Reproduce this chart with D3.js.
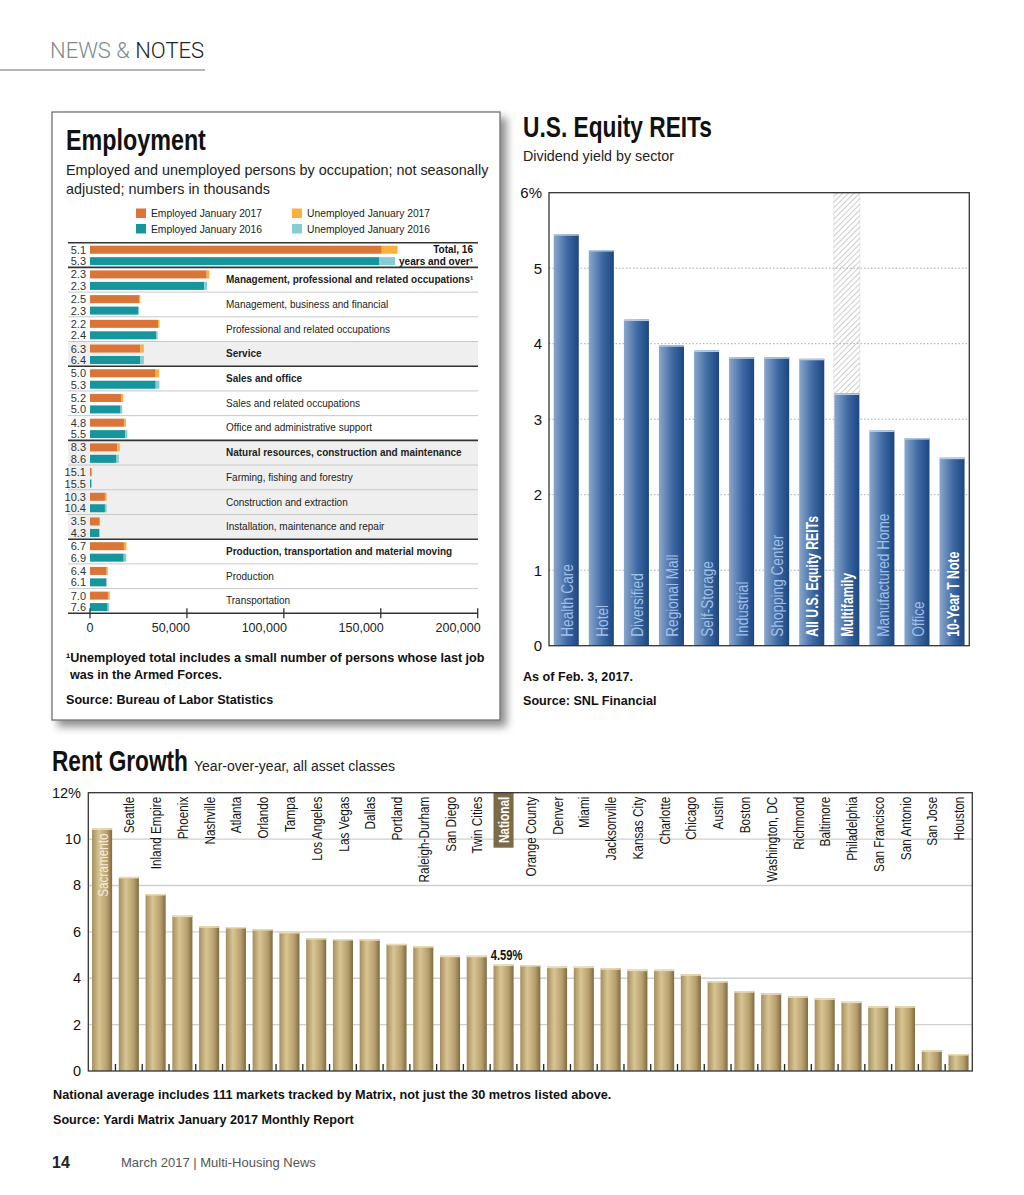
<!DOCTYPE html>
<html lang="en">
<head>
<meta charset="UTF-8">
<title>News &amp; Notes – March 2017</title>
<script src="https://cdn.jsdelivr.net/npm/d3@7"></script>
<style>
  body { margin: 0; background: #fff; }
  svg { display: block; font-family: "Liberation Sans", Arial, Helvetica, sans-serif; }
</style>
</head>
<body>
<svg id="page" width="1024" height="1195"></svg>
<script>
// ---------- Employment (numbers in thousands) ----------
const occupations = [
  "Total", "Management, professional and related occupations\u00b9",
  "Management, business and financial", "Professional and related occupations",
  "Service", "Sales and office", "Sales and related occupations",
  "Office and administrative support", "Natural resources, construction and maintenance",
  "Farming, fishing and forestry", "Construction and extraction",
  "Installation, maintenance and repair", "Production, transportation and material moving",
  "Production", "Transportation"
];
const rate2017 = ["5.1","2.3","2.5","2.2","6.3","5.0","5.2","4.8","8.3","15.1","10.3","3.5","6.7","6.4","7.0"];
const rate2016 = ["5.3","2.3","2.3","2.4","6.4","5.3","5.0","5.5","8.6","15.5","10.4","4.3","6.9","6.1","7.6"];
const employed2017   = [150500, 60200, 25300, 35100, 26000, 33900, 16300, 17700, 14100, 850, 7700, 5000, 17500, 8600, 9500];
const unemployed2017 = [8150, 1420, 650, 790, 1750, 1780, 890, 890, 1280, 150, 880, 180, 1260, 590, 720];
const employed2016   = [149100, 59000, 24800, 34100, 26000, 33900, 15800, 18200, 13600, 700, 7700, 4800, 17400, 8300, 9100];
const unemployed2016 = [8300, 1390, 580, 840, 1780, 1900, 830, 1060, 1280, 130, 890, 220, 1290, 540, 750];
const empTicks = [0, 50000, 100000, 150000, 200000];
const legendItems = ["Employed January 2017", "Unemployed January 2017", "Employed January 2016", "Unemployed January 2016"];

// ---------- U.S. Equity REITs ----------
const sectors = ["Health Care","Hotel","Diversified","Regional Mall","Self-Storage","Industrial",
  "Shopping Center","All U.S. Equity REITs","Multifamily","Manufactured Home","Office","10-Year T Note"];
const yields = [5.45, 5.24, 4.32, 3.98, 3.91, 3.82, 3.82, 3.80, 3.34, 2.85, 2.75, 2.49];
const reitTicks = [0, 1, 2, 3, 4, 5, 6];

// ---------- Rent Growth ----------
const metros = ["Sacramento","Seattle","Inland Empire","Phoenix","Nashville","Atlanta","Orlando","Tampa",
  "Los Angeles","Las Vegas","Dallas","Portland","Raleigh-Durham","San Diego","Twin Cities","National",
  "Orange County","Denver","Miami","Jacksonville","Kansas City","Charlotte","Chicago","Austin","Boston",
  "Washington, DC","Richmond","Baltimore","Philadelphia","San Francisco","San Antonio","San Jose","Houston"];
const rentGrowth = [10.46, 8.37, 7.63, 6.70, 6.24, 6.21, 6.12, 5.99, 5.73, 5.69, 5.68, 5.48, 5.38, 4.97, 4.97, 4.59,
  4.57, 4.50, 4.50, 4.43, 4.37, 4.37, 4.17, 3.87, 3.44, 3.35, 3.22, 3.13, 2.99, 2.79, 2.79, 0.89, 0.73];
const rentTicks = [0, 2, 4, 6, 8, 10, 12];

// styling config
const boldRows = [0, 1, 4, 5, 8, 12];
const shadedRows = [4, 8, 9, 10, 11];
const darkTopRows = [0, 1, 5, 8, 12];
const legendColors = ["#da7439", "#f8b13f", "#17959c", "#86cdd3"];
const whiteSectors = ["All U.S. Equity REITs", "Multifamily", "10-Year T Note"];
const hatchedSector = "Multifamily";
const insideMetro = "Sacramento";
const boxedMetro = "National";

const svg = d3.select("#page");
const defs = svg.append("defs");

// squeeze a text horizontally so it reads like a condensed face
function fitWidth(sel, w) {
  sel.each(function () {
    const n = this.getComputedTextLength();
    const x = +this.getAttribute("x"), y = +this.getAttribute("y");
    this.removeAttribute("x"); this.removeAttribute("y");
    this.setAttribute("transform", `translate(${x},${y}) scale(${w / n},1)`);
  });
}

const shadow = defs.append("filter").attr("id", "shadow").attr("x", "-5%").attr("y", "-5%").attr("width", "115%").attr("height", "115%");
shadow.append("feDropShadow").attr("dx", 6).attr("dy", 6).attr("stdDeviation", 4)
  .attr("flood-color", "#000").attr("flood-opacity", 0.45);

const blueGrad = defs.append("linearGradient").attr("id", "blueBar").attr("x1", 0).attr("x2", 1).attr("y1", 0).attr("y2", 0);
blueGrad.append("stop").attr("offset", "0%").attr("stop-color", "#8aa7cc");
blueGrad.append("stop").attr("offset", "55%").attr("stop-color", "#3d68a2");
blueGrad.append("stop").attr("offset", "100%").attr("stop-color", "#1c4680");

const tanGrad = defs.append("linearGradient").attr("id", "tanBar").attr("x1", 0).attr("x2", 1).attr("y1", 0).attr("y2", 0);
tanGrad.append("stop").attr("offset", "0%").attr("stop-color", "#a58e5e");
tanGrad.append("stop").attr("offset", "35%").attr("stop-color", "#d8c593");
tanGrad.append("stop").attr("offset", "75%").attr("stop-color", "#b59e6c");
tanGrad.append("stop").attr("offset", "100%").attr("stop-color", "#7f6b41");

const hatch = defs.append("pattern").attr("id", "hatch").attr("patternUnits", "userSpaceOnUse")
  .attr("width", 4).attr("height", 4).attr("patternTransform", "rotate(45)");
hatch.append("line").attr("x1", 0).attr("y1", 0).attr("x2", 0).attr("y2", 4)
  .attr("stroke", "#999").attr("stroke-width", 1);

// ---------- page header / footer ----------
const head = svg.append("text").attr("x", 50).attr("y", 58).attr("font-family", "Roboto, sans-serif")
  .attr("font-weight", 300).attr("font-size", 22);
head.append("tspan").attr("fill", "#7d8b8b").text("NEWS & ");
head.append("tspan").attr("fill", "#222").text("NOTES");
svg.append("line").attr("x1", 0).attr("x2", 205).attr("y1", 70).attr("y2", 70).attr("stroke", "#b5b5b5").attr("stroke-width", 2);

svg.append("text").attr("x", 52).attr("y", 1168).attr("font-weight", "bold").attr("font-size", 16).attr("fill", "#222").text("14");
svg.append("text").attr("x", 121).attr("y", 1167).attr("font-size", 13).attr("fill", "#555").text("March 2017  |  Multi-Housing News");

// ---------- Employment ----------
const emp = svg.append("g");
emp.append("rect").attr("x", 52).attr("y", 112).attr("width", 448).attr("height", 608)
  .attr("fill", "#fff").attr("stroke", "#666").attr("stroke-width", 1.2).attr("filter", "url(#shadow)");
emp.append("text").attr("x", 66).attr("y", 150).attr("font-size", 29).attr("font-weight", "bold")
  .attr("fill", "#111").text("Employment").call(fitWidth, 140);
emp.append("text").attr("x", 66).attr("y", 175).attr("font-size", 14.4).attr("fill", "#222")
  .text("Employed and unemployed persons by occupation; not seasonally");
emp.append("text").attr("x", 66).attr("y", 194).attr("font-size", 14.4).attr("fill", "#222")
  .text("adjusted; numbers in thousands");

const legend = emp.append("g").selectAll("g").data(legendItems).join("g")
  .attr("transform", (d, i) => `translate(${i % 2 ? 292 : 136},${i < 2 ? 208.5 : 224})`);
legend.append("rect").attr("width", 10).attr("height", 9.5).attr("fill", (d, i) => legendColors[i]);
legend.append("text").attr("x", 15).attr("y", 8.5).attr("font-size", 10.3).attr("fill", "#222").text(d => d);

const ex = d3.scaleLinear().domain([0, 200000]).range([90, 477.7]);
const ey = d3.scaleBand().domain(occupations).range([242.7, 613.3]);
const yr = d3.scaleBand().domain(["2017", "2016"]).range([3, 22.5]).paddingInner(0.3);

const rows = emp.append("g").selectAll("g").data(occupations).join("g")
  .attr("transform", d => `translate(0,${ey(d)})`);
rows.filter((d, i) => shadedRows.includes(i)).append("rect")
  .attr("x", 68).attr("width", 410).attr("height", ey.bandwidth()).attr("fill", "#efefef");
rows.append("line").attr("x1", 68).attr("x2", 478)
  .attr("stroke", (d, i) => darkTopRows.includes(i) ? "#333" : "#c8c8c8")
  .attr("stroke-width", (d, i) => darkTopRows.includes(i) ? 1.6 : 1);

const series = [
  { key: "2017", emp: employed2017, un: unemployed2017, rate: rate2017, c: [legendColors[0], legendColors[1]] },
  { key: "2016", emp: employed2016, un: unemployed2016, rate: rate2016, c: [legendColors[2], legendColors[3]] }
];
series.forEach(s => {
  rows.append("rect").attr("x", ex(0)).attr("y", yr(s.key)).attr("height", yr.bandwidth())
    .attr("width", (d, i) => ex(s.emp[i]) - ex(0)).attr("fill", s.c[0]);
  rows.append("rect").attr("x", (d, i) => ex(s.emp[i])).attr("y", yr(s.key)).attr("height", yr.bandwidth())
    .attr("width", (d, i) => ex(s.emp[i] + s.un[i]) - ex(s.emp[i])).attr("fill", s.c[1]);
  rows.append("text").attr("x", 86).attr("y", yr(s.key) + yr.bandwidth() / 2 + 4).attr("text-anchor", "end")
    .attr("font-size", 11).attr("fill", "#333").text((d, i) => s.rate[i]);
});
rows.filter((d, i) => i > 0).append("text").attr("x", 226).attr("y", ey.bandwidth() / 2 + 3.5)
  .attr("font-size", 10)
  .attr("font-weight", (d, i) => boldRows.includes(i + 1) ? "bold" : "normal")
  .attr("fill", "#222").text(d => d);
const totalLbl = rows.filter((d, i) => i === 0).append("text").attr("text-anchor", "end")
  .attr("font-size", 10).attr("font-weight", "bold").attr("fill", "#111");
totalLbl.append("tspan").attr("x", 473).attr("y", 10.5).text("Total, 16");
totalLbl.append("tspan").attr("x", 473).attr("y", 22).text("years and over\u00b9");

const eAxis = emp.append("g").attr("transform", "translate(0,613.3)");
eAxis.append("line").attr("x1", 68).attr("x2", 478).attr("stroke", "#333").attr("stroke-width", 1.6);
eAxis.selectAll(".t").data(empTicks).join("line").attr("class", "t")
  .attr("x1", d => ex(d)).attr("x2", d => ex(d)).attr("y1", -5).attr("y2", 5).attr("stroke", "#333").attr("stroke-width", 1.3);
eAxis.selectAll(".l").data(empTicks).join("text").attr("class", "l")
  .attr("x", d => d === 0 ? ex(d) : ex(d) + 3).attr("y", 19)
  .attr("text-anchor", d => d === 0 ? "middle" : "end").attr("font-size", 12.5).attr("fill", "#222")
  .text(d => d3.format(",")(d));

emp.append("text").attr("x", 66).attr("y", 662).attr("font-size", 12.6).attr("font-weight", "bold").attr("fill", "#111")
  .text("\u00b9Unemployed total includes a small number of persons whose last job");
emp.append("text").attr("x", 70).attr("y", 679).attr("font-size", 12.6).attr("font-weight", "bold").attr("fill", "#111")
  .text("was in the Armed Forces.");
emp.append("text").attr("x", 66).attr("y", 704).attr("font-size", 12.6).attr("font-weight", "bold").attr("fill", "#111")
  .text("Source: Bureau of Labor Statistics");

// ---------- U.S. Equity REITs ----------
const reit = svg.append("g");
reit.append("text").attr("x", 523).attr("y", 137).attr("font-size", 29).attr("font-weight", "bold")
  .attr("fill", "#111").text("U.S. Equity REITs").call(fitWidth, 189);
reit.append("text").attr("x", 523).attr("y", 161).attr("font-size", 14.3).attr("fill", "#222").text("Dividend yield by sector");

const rx = d3.scaleBand().domain(sectors).range([549, 969.3]).paddingInner(0.286).paddingOuter(0.135);
const ry = d3.scaleLinear().domain([0, 6]).range([645.7, 192.7]);

reit.selectAll(".grid").data(reitTicks.filter(t => t > 0 && t < 6)).join("line").attr("class", "grid")
  .attr("x1", 549).attr("x2", 969.3).attr("y1", d => ry(d)).attr("y2", d => ry(d))
  .attr("stroke", "#aaa").attr("stroke-dasharray", "1.5,2");
reit.selectAll(".yl").data(reitTicks).join("text").attr("class", "yl")
  .attr("x", 542).attr("y", d => ry(d) + 5.5).attr("text-anchor", "end").attr("font-size", 15).attr("fill", "#111")
  .text(d => d === 6 ? "6%" : d);

const hx = rx(hatchedSector), hv = yields[sectors.indexOf(hatchedSector)];
reit.append("rect").attr("x", hx - 0.5).attr("y", ry(6)).attr("width", rx.bandwidth() + 1).attr("height", ry(hv) - ry(6))
  .attr("fill", "url(#hatch)").attr("stroke", "#bbb").attr("stroke-width", 0.6).attr("stroke-dasharray", "1,1");
reit.append("line").attr("x1", hx - 0.5).attr("x2", hx - 0.5).attr("y1", ry(hv)).attr("y2", ry(0))
  .attr("stroke", "#ccc").attr("stroke-width", 0.8).attr("stroke-dasharray", "1,1.5");

const rbars = reit.append("g").selectAll("g").data(sectors).join("g").attr("transform", d => `translate(${rx(d)},0)`);
rbars.append("rect").attr("y", (d, i) => ry(yields[i])).attr("width", rx.bandwidth())
  .attr("height", (d, i) => ry(0) - ry(yields[i])).attr("fill", "url(#blueBar)");
rbars.append("rect").attr("y", (d, i) => ry(yields[i])).attr("width", rx.bandwidth()).attr("height", 1.5).attr("fill", "#b6c9e2");
rbars.append("text")
  .attr("transform", d => `translate(${rx.bandwidth() / 2 + 0.5},${ry(0) - 9}) rotate(-90) scale(${whiteSectors.includes(d) ? 0.72 : 0.8},1)`)
  .attr("dy", "0.36em").attr("font-size", 17)
  .attr("font-weight", d => whiteSectors.includes(d) ? "bold" : "normal")
  .attr("fill", d => whiteSectors.includes(d) ? "#fff" : "#a2c0e8").text(d => d);

reit.append("rect").attr("x", 549).attr("y", ry(6)).attr("width", 420.3).attr("height", ry(0) - ry(6))
  .attr("fill", "none").attr("stroke", "#333").attr("stroke-width", 1.3);

reit.append("text").attr("x", 523).attr("y", 681).attr("font-size", 12.6).attr("font-weight", "bold").attr("fill", "#111")
  .text("As of Feb. 3, 2017.");
reit.append("text").attr("x", 523).attr("y", 705).attr("font-size", 12.6).attr("font-weight", "bold").attr("fill", "#111")
  .text("Source: SNL Financial");

// ---------- Rent Growth ----------
const rent = svg.append("g");
rent.append("text").attr("x", 52).attr("y", 771).attr("font-size", 29).attr("font-weight", "bold")
  .attr("fill", "#111").text("Rent Growth").call(fitWidth, 136);
rent.append("text").attr("x", 194).attr("y", 771).attr("font-size", 14).attr("fill", "#222").text("Year-over-year, all asset classes");

const gx = d3.scaleBand().domain(metros).range([88.3, 972.3]).paddingInner(0.25).paddingOuter(0.14);
const gy = d3.scaleLinear().domain([0, 12]).range([1071, 792.7]);

rent.selectAll(".grid").data(rentTicks.filter(t => t > 0 && t < 12)).join("line").attr("class", "grid")
  .attr("x1", 88.3).attr("x2", 972.3).attr("y1", d => gy(d)).attr("y2", d => gy(d))
  .attr("stroke", "#cfcfcf").attr("stroke-width", 1.4);
rent.selectAll(".yl").data(rentTicks).join("text").attr("class", "yl")
  .attr("x", 81).attr("y", d => gy(d) + 5).attr("text-anchor", "end").attr("font-size", 14.5).attr("fill", "#111")
  .text(d => d === 12 ? "12%" : d);

const gbars = rent.append("g").selectAll("g").data(metros).join("g").attr("transform", d => `translate(${gx(d)},0)`);
gbars.append("rect").attr("y", (d, i) => gy(rentGrowth[i])).attr("width", gx.bandwidth())
  .attr("height", (d, i) => gy(0) - gy(rentGrowth[i])).attr("fill", "url(#tanBar)");
gbars.append("rect").attr("y", (d, i) => gy(rentGrowth[i])).attr("width", gx.bandwidth()).attr("height", 1.5).attr("fill", "#e8dcba");
gbars.filter(d => d === boxedMetro).append("rect").attr("y", gy(12)).attr("width", gx.bandwidth()).attr("height", 55)
  .attr("fill", "#7b6b48");
gbars.append("text")
  .attr("transform", (d, i) => `translate(${gx.bandwidth() / 2},${d === insideMetro ? gy(rentGrowth[i]) + 5 : gy(12) + 4}) rotate(-90) scale(0.76,1)`)
  .attr("dy", "0.36em").attr("text-anchor", "end").attr("font-size", 15.5)
  .attr("font-weight", d => d === boxedMetro ? "bold" : "normal")
  .attr("fill", d => d === insideMetro ? "#f6eedb" : d === boxedMetro ? "#fff" : "#151515").text(d => d);

const natIdx = metros.indexOf(boxedMetro);
rent.append("text")
  .attr("transform", `translate(${gx(boxedMetro) + gx.bandwidth() / 2 + 3},${gy(rentGrowth[natIdx]) - 5}) scale(0.8,1)`)
  .attr("text-anchor", "middle").attr("font-size", 14).attr("font-weight", "bold").attr("fill", "#111")
  .text(rentGrowth[natIdx].toFixed(2) + "%");

rent.selectAll(".xt").data(metros.slice(1)).join("line").attr("class", "xt")
  .attr("x1", d => gx(d) - gx.step() * gx.paddingInner() / 2).attr("x2", d => gx(d) - gx.step() * gx.paddingInner() / 2)
  .attr("y1", gy(0)).attr("y2", gy(0) - 7).attr("stroke", "#222").attr("stroke-width", 1.3);

rent.append("rect").attr("x", 88.3).attr("y", gy(12)).attr("width", 884).attr("height", gy(0) - gy(12))
  .attr("fill", "none").attr("stroke", "#333").attr("stroke-width", 1.3);

rent.append("text").attr("x", 53).attr("y", 1099).attr("font-size", 13).attr("font-weight", "bold")
  .attr("fill", "#111").text("National average includes 111 markets tracked by Matrix, not just the 30 metros listed above.")
  .call(fitWidth, 559);
rent.append("text").attr("x", 53).attr("y", 1124).attr("font-size", 13).attr("font-weight", "bold")
  .attr("fill", "#111").text("Source: Yardi Matrix January 2017 Monthly Report")
  .call(fitWidth, 301);
</script>
</body>
</html>
